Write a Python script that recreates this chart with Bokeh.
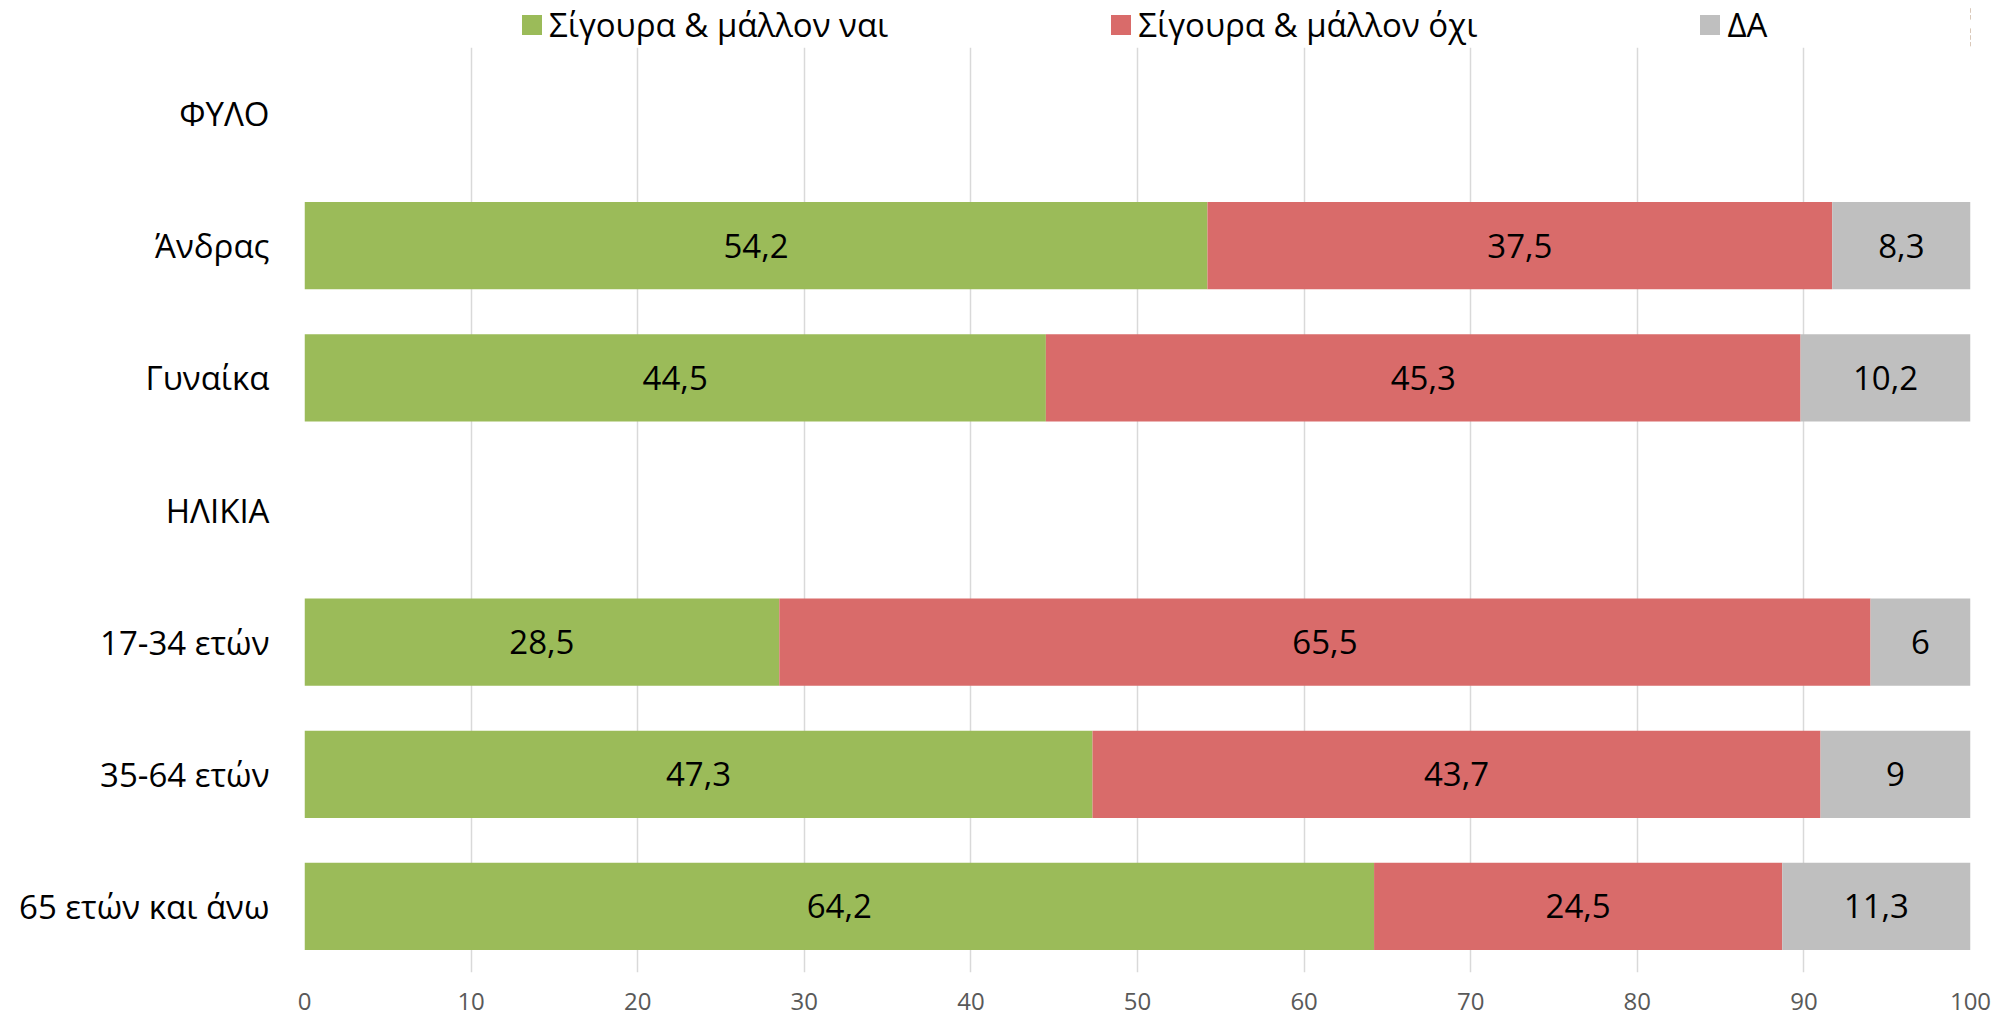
from bokeh.plotting import figure
from bokeh.layouts import column
from bokeh.models import ColumnDataSource, FactorRange, Range1d, Legend, LegendItem
from bokeh.embed import file_html
from bokeh.resources import INLINE
from bokeh.core.properties import value

factors = ["ΦΥΛΟ", "Άνδρας", "Γυναίκα", "ΗΛΙΚΙΑ", "17-34 ετών", "35-64 ετών", "65 ετών και άνω"]
rows = ["Άνδρας", "Γυναίκα", "17-34 ετών", "35-64 ετών", "65 ετών και άνω"]
yes_vals = [54.2, 44.5, 28.5, 47.3, 64.2]
no_vals = [37.5, 45.3, 65.5, 43.7, 24.5]
da_vals = [8.3, 10.2, 6, 9, 11.3]
series_names = ["Σίγουρα & μάλλον ναι", "Σίγουρα & μάλλον όχι", "ΔΑ"]
colors = ["#9BBB59", "#D96B6A", "#BFBFBF"]
x_ticks = [0, 10, 20, 30, 40, 50, 60, 70, 80, 90, 100]

def fmt(v):
    s = ("%.1f" % v).replace(".", ",")
    if s.endswith(",0"):
        s = s[:-2]
    return s

W = 2000
LEG_H = 47
H = 1016 - LEG_H
LEFT = 304
RIGHT = W - 1970
BOTTOM = 44

src = ColumnDataSource(dict(y=rows, yes=yes_vals, no=no_vals, da=da_vals))

# main chart
p = figure(width=W, height=H, output_backend="svg", toolbar_location=None,
           y_range=FactorRange(factors=list(reversed(factors))), x_range=(0, 100),
           min_border_left=LEFT, min_border_right=RIGHT, min_border_top=0, min_border_bottom=BOTTOM)
p.outline_line_color = None

p.hbar_stack(["yes", "no", "da"], y="y", height=0.66, color=colors, source=src, line_color=None)

all_vals = [yes_vals, no_vals, da_vals]
for i in range(3):
    vals = all_vals[i]
    left = [0.0] * len(rows)
    for j in range(i):
        left = [a + b for a, b in zip(left, all_vals[j])]
    centers = [l + v / 2 for l, v in zip(left, vals)]
    lsrc = ColumnDataSource(dict(x=centers, y=rows, t=[fmt(v) for v in vals]))
    p.text(x="x", y="y", text="t", source=lsrc, text_align="center", text_baseline="middle",
           text_font=value("Open Sans"), text_font_size="33px", text_color="#000000")

p.xaxis.ticker = x_ticks
p.xaxis.axis_line_color = None
p.xaxis.major_tick_line_color = None
p.xaxis.minor_tick_line_color = None
p.xaxis.major_label_text_font = "Open Sans"
p.xaxis.major_label_text_font_size = "24px"
p.xaxis.major_label_text_color = "#595959"
p.xaxis.major_label_standoff = 14

p.yaxis.axis_line_color = None
p.yaxis.major_tick_line_color = None
p.yaxis.minor_tick_line_color = None
p.yaxis.major_label_text_font = "Open Sans"
p.yaxis.major_label_text_font_size = "33px"
p.yaxis.major_label_text_color = "#000000"
p.yaxis.major_label_standoff = 29

p.ygrid.grid_line_color = None
p.xgrid.grid_line_color = "#D9D9D9"
p.xgrid.grid_line_width = 1.5

# legend strip: same series, with its bars mapped far outside the visible strip
lg = figure(width=W, height=LEG_H, output_backend="svg", toolbar_location=None,
            x_range=Range1d(-300, -200), y_range=FactorRange(factors=list(reversed(factors))),
            x_axis_location=None, y_axis_location=None,
            min_border_left=0, min_border_right=0, min_border_top=0, min_border_bottom=0)
lg.outline_line_color = None
lg.xgrid.visible = False
lg.ygrid.visible = False
leg_renderers = lg.hbar_stack(["yes", "no", "da"], y="y", height=0.66, color=colors, source=src, line_color=None)

legend = Legend(items=[LegendItem(label=n, renderers=[r]) for n, r in zip(series_names, leg_renderers)],
                orientation="horizontal", location=(215, 0), border_line_color=None,
                background_fill_alpha=0, margin=0, padding=0, spacing=220,
                label_text_font="Open Sans", label_text_font_size="33px", label_standoff=5,
                glyph_width=25, glyph_height=25, label_text_color="#000000")
lg.add_layout(legend, "center")

layout = column(lg, p, spacing=0)
open("out.html", "w").write(file_html(layout, INLINE))
